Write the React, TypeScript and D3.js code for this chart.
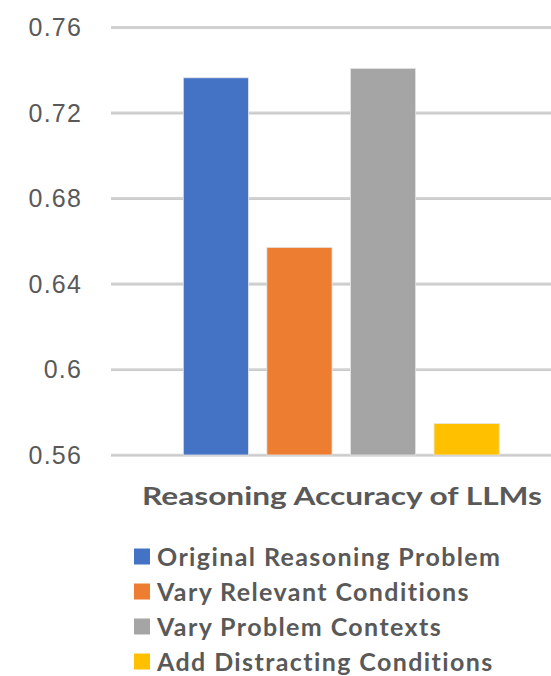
import React from "react";
import * as d3 from "d3";

const categories = [
  "Original Reasoning Problem",
  "Vary Relevant Conditions",
  "Vary Problem Contexts",
  "Add Distracting Conditions",
];
const values = [0.7364, 0.6571, 0.7408, 0.5747];
const colors = ["#4472C4", "#ED7D31", "#A5A5A5", "#FFC000"];
const yTicks = [0.56, 0.6, 0.64, 0.68, 0.72, 0.76];
const title = "Reasoning Accuracy of LLMs";

const W = 551;
const H = 676;
const TEXT = "#595959";

export default function App() {
  const y = d3.scaleLinear().domain([0.56, 0.76]).range([455, 27.3]);
  const x = d3
    .scaleBand<string>()
    .domain(categories)
    .range([141.5, 541])
    .paddingInner(0.22)
    .paddingOuter(0.5);
  const fmt = (v: number) => String(+v.toFixed(2));

  return (
    <svg
      width={W}
      height={H}
      style={{ position: "absolute", left: 0, top: 0, display: "block", background: "#fff" }}
    >
      <g>
        {yTicks.map((t) => (
          <g key={t}>
            <line x1={111} x2={W} y1={y(t)} y2={y(t)} stroke="#d2d2d2" strokeWidth={2.6} />
            <line x1={111} x2={W} y1={y(t) + 1.1} y2={y(t) + 1.1} stroke="#bcbcbc" strokeWidth={0.6} />
            <text
              x={82}
              y={y(t)}
              dy="0.36em"
              textAnchor="end"
              fontFamily="'Liberation Sans', Arial, sans-serif"
              fontSize={25}
              letterSpacing={1.2}
              fill={TEXT}
            >
              {fmt(t)}
            </text>
          </g>
        ))}
      </g>
      <g>
        {categories.map((c, i) => (
          <rect
            key={c}
            x={x(c)}
            y={y(values[i])}
            width={x.bandwidth()}
            height={y(0.56) - y(values[i])}
            fill={colors[i]}
            stroke="#e6e6e6"
            strokeWidth={0.8}
          />
        ))}
      </g>
      <text
        x={142}
        y={505}
        fontFamily="Lato, 'Open Sans', sans-serif"
        fontWeight={700}
        fontSize={24}
        fill={TEXT}
        textLength={400}
        lengthAdjust="spacingAndGlyphs"
      >
        {title}
      </text>
      <g>
        {categories.map((c, i) => {
          const cy = 556.5 + i * 35;
          return (
            <g key={c}>
              <rect x={134} y={cy - 8} width={16} height={16} fill={colors[i]} />
              <text
                x={157}
                y={cy}
                dy="0.36em"
                fontFamily="Lato, 'Open Sans', sans-serif"
                fontWeight={700}
                fontSize={25}
                letterSpacing={1.4}
                fill={TEXT}
              >
                {c}
              </text>
            </g>
          );
        })}
      </g>
    </svg>
  );
}
